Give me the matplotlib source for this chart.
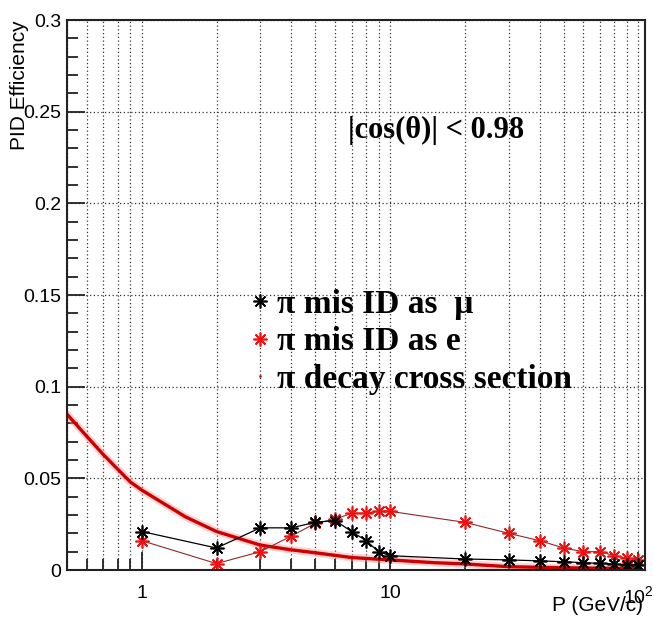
import numpy as np
import matplotlib.pyplot as plt
from matplotlib.lines import Line2D
from matplotlib.ticker import FixedLocator, FixedFormatter, MultipleLocator, NullFormatter

# momentum points (GeV/c)
p = [1, 2, 3, 4, 5, 6, 7, 8, 9, 10, 20, 30, 40, 50, 60, 70, 80, 90, 100]
eff_mu = [0.021, 0.012, 0.023, 0.023, 0.026, 0.027, 0.021, 0.016, 0.010, 0.0078,
          0.006, 0.0055, 0.005, 0.0045, 0.004, 0.0036, 0.0032, 0.0028, 0.0027]
eff_e = [0.016, 0.0035, 0.010, 0.0185, 0.0255, 0.0277, 0.031, 0.031, 0.032, 0.032,
         0.026, 0.020, 0.016, 0.012, 0.010, 0.010, 0.0078, 0.0065, 0.0055]

# pion decay curve
p_decay = [0.5, 0.6, 0.7, 0.8, 0.9, 1, 1.5, 2, 3, 4, 5, 7, 10, 15, 20, 30, 50, 70, 100]
decay = [0.085, 0.073, 0.063, 0.055, 0.048, 0.0436, 0.029, 0.021, 0.0136, 0.011, 0.0094,
         0.0068, 0.0055, 0.004, 0.0033, 0.0018, 0.0012, 0.001, 0.0008]

x_major = [1, 10, 100]
x_major_labels = ["1", "10", "$10^{2}$"]
legend_labels = ["π mis ID as  μ", "π mis ID as e", "π decay cross section"]

plt.rcParams['font.family'] = ['Liberation Sans', 'DejaVu Sans']
plt.rcParams['mathtext.fontset'] = 'custom'
plt.rcParams['mathtext.rm'] = 'Liberation Sans'
plt.rcParams['mathtext.it'] = 'Liberation Sans:italic'

fig = plt.figure(figsize=(6.54, 6.27), dpi=100)
ax = fig.add_axes([0.1024, 0.0909, 0.8835, 0.8772])

star = (8, 2, 0)

# decay curve with a soft halo
ax.plot(p_decay, decay, color='#ff9999', lw=5.5, alpha=0.45, solid_capstyle='round')
ax.plot(p_decay, decay, color='#cc0000', lw=2.4)

ax.plot(p, eff_e, color='#8b2a2a', lw=0.8, marker=star, ms=10, mew=1.2,
        mec='#ee1111')
ax.plot(p, eff_mu, color='black', lw=0.9, marker=star, ms=10, mew=1.2, mec='black')

ax.set_xscale('log')
ax.set_xlim(0.5, 106)
ax.set_ylim(0, 0.3)

ax.xaxis.set_major_locator(FixedLocator(x_major))
ax.xaxis.set_major_formatter(FixedFormatter(x_major_labels))
minors = [m * d for d in [0.1, 1, 10] for m in range(2, 10) if 0.5 <= m * d <= 106]
ax.xaxis.set_minor_locator(FixedLocator(minors))
ax.xaxis.set_minor_formatter(NullFormatter())
ax.yaxis.set_major_locator(MultipleLocator(0.05))
ax.yaxis.set_minor_locator(MultipleLocator(0.01))
ax.yaxis.set_major_formatter(plt.FuncFormatter(lambda v, pos: ('%.2f' % v).rstrip('0').rstrip('.') if v else '0'))

ax.tick_params(which='both', direction='in', top=False, right=False, width=1.3, color='#222222')
ax.tick_params(which='major', length=13, labelsize=14)
ax.tick_params(which='minor', length=8)
ax.tick_params(axis='x', pad=11)
ax.tick_params(axis='y', pad=4)

ax.grid(True, which='both', axis='x', color='#333333', ls=(0, (1, 2)), lw=0.9)
ax.grid(True, which='major', axis='y', color='#333333', ls=(0, (1, 2)), lw=0.9)
for s in ax.spines.values():
    s.set_linewidth(1.5)
    s.set_color('#222222')

handles = [Line2D([], [], ls='none', marker=star, ms=10, mew=1.2, color='black'),
           Line2D([], [], ls='none', marker=star, ms=10, mew=1.2, color='#ee1111'),
           Line2D([], [], ls='none', marker='.', ms=2, color='#ee1111')]
leg = ax.legend(handles, legend_labels, loc='upper left', bbox_to_anchor=(0.2906, 0.541),
                frameon=False, prop={'family': 'Liberation Serif', 'weight': 'bold', 'size': 24},
                handlelength=0.5, handletextpad=0.25, labelspacing=0.19, borderpad=0)

ax.text(0.638, 0.799, "|cos(θ)| < 0.98", transform=ax.transAxes,
        ha='center', va='center', fontsize=22, family='Liberation Serif', weight='bold')

fig.text(0.03, 0.968, "PID Efficiency", rotation=90, ha='center', va='top', fontsize=15)
fig.text(0.983, 0.035, "P (GeV/c)", ha='right', va='center', fontsize=15)

fig.savefig('out.png', dpi=100)
